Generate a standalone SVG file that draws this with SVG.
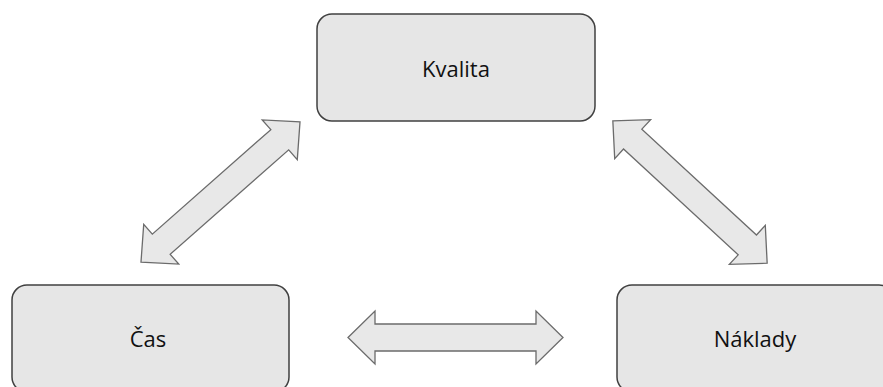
<svg xmlns="http://www.w3.org/2000/svg" width="883" height="387" viewBox="0 0 883 387">
<style>
.box{fill:#e6e6e6;stroke:#404040;stroke-width:1.5}
.arr{fill:#e8e8e8;stroke:#6b6b6b;stroke-width:1.3;stroke-linejoin:miter}
.lbl{font-family:"Open Sans","Noto Sans",sans-serif;font-size:22px;fill:#111;text-anchor:middle}
</style>
<rect width="883" height="387" fill="#ffffff"/>
<g id="connectors">
<path class="arr" transform="translate(455.5,337.5)" d="M-107.5 0 L-80.5 -26.5 L-80.5 -13.5 L80.5 -13.5 L80.5 -26.5 L107.5 0 L80.5 26.5 L80.5 13.5 L-80.5 13.5 L-80.5 26.5 Z"/>
<path class="arr" transform="translate(220.5,192) rotate(-41.4)" d="M-106 0 L-79 -26.5 L-79 -13.5 L79 -13.5 L79 -26.5 L106 0 L79 26.5 L79 13.5 L-79 13.5 L-79 26.5 Z"/>
<path class="arr" transform="translate(690,192) rotate(42.7)" d="M-105 0 L-78 -26.5 L-78 -13.5 L78 -13.5 L78 -26.5 L105 0 L78 26.5 L78 13.5 L-78 13.5 L-78 26.5 Z"/>
</g>
<g id="kvalita">
<rect class="box" x="317" y="14" width="278" height="107" rx="15"/>
<text class="lbl" x="456" y="77">Kvalita</text>
</g>
<g id="cas">
<rect class="box" x="12" y="285" width="277" height="107" rx="15"/>
<text class="lbl" x="148" y="347">Čas</text>
</g>
<g id="naklady">
<rect class="box" x="617" y="285" width="277" height="107" rx="15"/>
<text class="lbl" x="755" y="347">Náklady</text>
</g>
</svg>
